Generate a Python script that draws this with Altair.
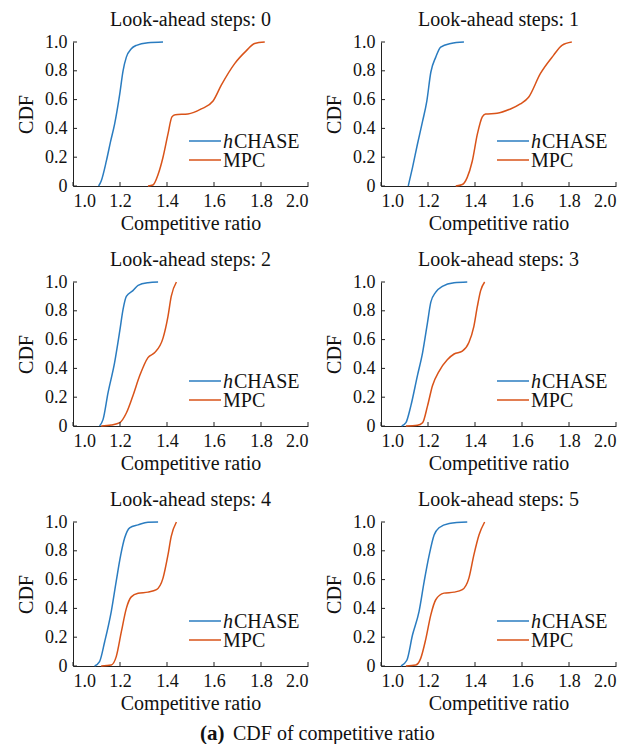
import altair as alt
import pandas as pd

FONT = "Liberation Serif"
BLUE = "#2a7cc0"
ORANGE = "#d95319"

SERIES = ["hCHASE", "MPC"]
X_TICKS = [1.0, 1.2, 1.4, 1.6, 1.8, 2.0]
Y_TICKS = [0.0, 0.2, 0.4, 0.6, 0.8, 1.0]
TITLES = ["Look-ahead steps: 0", "Look-ahead steps: 1", "Look-ahead steps: 2",
          "Look-ahead steps: 3", "Look-ahead steps: 4", "Look-ahead steps: 5"]

# Panel 0
H0x = [1.109, 1.12, 1.142, 1.16, 1.177, 1.199, 1.213, 1.227, 1.248, 1.27, 1.319, 1.383]
H0y = [0, 0.035, 0.174, 0.31, 0.43, 0.64, 0.80, 0.895, 0.953, 0.977, 0.995, 1.0]
M0x = [1.319, 1.34, 1.362, 1.383, 1.404, 1.421, 1.435, 1.489, 1.546, 1.596, 1.631, 1.688, 1.738, 1.773, 1.816]
M0y = [0, 0.007, 0.08, 0.2, 0.36, 0.48, 0.495, 0.5, 0.535, 0.59, 0.70, 0.85, 0.94, 0.99, 1.0]
# Panel 1
H1x = [1.116, 1.134, 1.155, 1.177, 1.195, 1.212, 1.233, 1.254, 1.297, 1.353]
H1y = [0, 0.128, 0.29, 0.45, 0.59, 0.79, 0.895, 0.965, 0.99, 1.0]
M1x = [1.318, 1.346, 1.367, 1.388, 1.41, 1.431, 1.445, 1.494, 1.551, 1.593, 1.628, 1.678, 1.734, 1.77, 1.812]
M1y = [0, 0.01, 0.06, 0.17, 0.36, 0.48, 0.5, 0.505, 0.535, 0.57, 0.616, 0.78, 0.907, 0.977, 1.0]
# Panel 2
H2x = [1.113, 1.128, 1.149, 1.177, 1.199, 1.213, 1.227, 1.255, 1.277, 1.319, 1.362]
H2y = [0, 0.046, 0.23, 0.44, 0.66, 0.81, 0.90, 0.94, 0.977, 0.995, 1.0]
M2x = [1.12, 1.163, 1.199, 1.227, 1.255, 1.284, 1.319, 1.348, 1.383, 1.404, 1.418, 1.44]
M2y = [0, 0.007, 0.023, 0.09, 0.21, 0.35, 0.475, 0.51, 0.61, 0.76, 0.9, 1.0]
# Panel 3
H3x = [1.088, 1.106, 1.127, 1.155, 1.177, 1.198, 1.212, 1.233, 1.261, 1.311, 1.367]
H3y = [0, 0.023, 0.14, 0.35, 0.51, 0.72, 0.86, 0.93, 0.97, 0.995, 1.0]
M3x = [1.106, 1.155, 1.177, 1.198, 1.219, 1.247, 1.282, 1.311, 1.346, 1.374, 1.395, 1.41, 1.424, 1.441]
M3y = [0, 0.005, 0.023, 0.14, 0.28, 0.38, 0.46, 0.5, 0.52, 0.58, 0.69, 0.83, 0.94, 1.0]
# Panel 4
H4x = [1.092, 1.113, 1.135, 1.163, 1.184, 1.203, 1.22, 1.241, 1.277, 1.319, 1.362]
H4y = [0, 0.03, 0.17, 0.38, 0.59, 0.77, 0.89, 0.96, 0.98, 0.998, 1.0]
M4x = [1.12, 1.163, 1.184, 1.206, 1.227, 1.248, 1.277, 1.319, 1.355, 1.383, 1.404, 1.418, 1.44]
M4y = [0, 0.007, 0.065, 0.24, 0.4, 0.48, 0.505, 0.513, 0.53, 0.61, 0.77, 0.9, 1.0]
# Panel 5
H5x = [1.085, 1.11, 1.134, 1.162, 1.184, 1.205, 1.226, 1.247, 1.29, 1.367]
H5y = [0, 0.04, 0.215, 0.38, 0.59, 0.77, 0.91, 0.96, 0.99, 1.0]
M5x = [1.106, 1.148, 1.169, 1.191, 1.212, 1.233, 1.268, 1.311, 1.346, 1.374, 1.395, 1.417, 1.441]
M5y = [0, 0.007, 0.053, 0.19, 0.355, 0.46, 0.506, 0.513, 0.53, 0.61, 0.77, 0.91, 1.0]

PANELS = [(H0x, H0y, M0x, M0y), (H1x, H1y, M1x, M1y), (H2x, H2y, M2x, M2y),
          (H3x, H3y, M3x, M3y), (H4x, H4y, M4x, M4y), (H5x, H5y, M5x, M5y)]

W, H = 235, 144
one = pd.DataFrame({"k": [0]})

XAXIS = alt.Axis(values=X_TICKS, format=".1f", ticks=False, grid=False,
                 labelOverlap=False, labelPadding=6, titlePadding=3)
YAXIS = alt.Axis(values=Y_TICKS, ticks=False, grid=False, labelOverlap=False,
                 labelExpr="datum.value == 0 ? '0' : format(datum.value, '.1f')",
                 labelPadding=6, titlePadding=8)


def panel(i, caption=False):
    hx, hy, mx, my = PANELS[i]
    df = pd.concat([
        pd.DataFrame({"x": hx, "y": hy, "series": SERIES[0], "order": range(len(hx))}),
        pd.DataFrame({"x": mx, "y": my, "series": SERIES[1], "order": range(len(mx))}),
    ])
    xs = alt.Scale(domain=[1.0, 2.0], nice=False)
    ys = alt.Scale(domain=[0.0, 1.0], nice=False)
    lines = alt.Chart(df).mark_line(strokeWidth=1.5, interpolate="monotone").encode(
        x=alt.X("x:Q", scale=xs, title="Competitive ratio", axis=XAXIS),
        y=alt.Y("y:Q", scale=ys, title="CDF", axis=YAXIS),
        color=alt.Color("series:N", scale=alt.Scale(domain=SERIES, range=[BLUE, ORANGE]), legend=None),
        order="order:Q",
    )
    xt = alt.Chart(pd.DataFrame({"t": X_TICKS})).mark_rule(color="#222", strokeWidth=1).encode(
        x=alt.X("t:Q", scale=xs, title="Competitive ratio", axis=XAXIS),
        y=alt.value(H), y2=alt.value(H - 4))
    yt = alt.Chart(pd.DataFrame({"t": Y_TICKS})).mark_rule(color="#222", strokeWidth=1).encode(
        y=alt.Y("t:Q", scale=ys, title="CDF", axis=YAXIS),
        x=alt.value(0), x2=alt.value(4))
    base = alt.Chart(one)
    l1 = base.mark_rule(color=BLUE, strokeWidth=1.5).encode(
        x=alt.value(116), x2=alt.value(148), y=alt.value(99))
    l2 = base.mark_rule(color=ORANGE, strokeWidth=1.5).encode(
        x=alt.value(116), x2=alt.value(148), y=alt.value(118))
    t1a = base.mark_text(text="h", font=FONT, fontSize=20, fontStyle="italic", align="left",
                         baseline="middle", color="#111").encode(x=alt.value(150), y=alt.value(100))
    t1b = base.mark_text(text="CHASE", font=FONT, fontSize=20, align="left",
                         baseline="middle", color="#111").encode(x=alt.value(161), y=alt.value(100))
    t2 = base.mark_text(text="MPC", font=FONT, fontSize=20, align="left",
                        baseline="middle", color="#111").encode(x=alt.value(150), y=alt.value(119))
    layers = [lines, xt, yt, l1, l2, t1a, t1b, t2]
    if caption:
        c1 = base.mark_text(text="(a)", font=FONT, fontSize=21, fontWeight="bold", align="left",
                            baseline="middle", color="#111").encode(x=alt.value(127), y=alt.value(212))
        c2 = base.mark_text(text="CDF of competitive ratio", font=FONT, fontSize=20, align="left",
                            baseline="middle", color="#111").encode(x=alt.value(160), y=alt.value(212))
        layers += [c1, c2]
    return alt.layer(*layers).properties(
        width=W, height=H,
        title=alt.TitleParams(TITLES[i], font=FONT, fontSize=20, fontWeight="normal",
                              color="#111", offset=3))


panels = [panel(0), panel(1), panel(2), panel(3), panel(4, caption=True), panel(5)]
chart = alt.concat(*panels, columns=2, spacing={"row": 96, "column": 73}, bounds="flush").properties(
    padding={"left": 8, "top": 2, "right": 0, "bottom": 0}
).configure_view(stroke=None).configure_axis(
    labelFont=FONT, titleFont=FONT, labelFontSize=18, titleFontSize=20,
    titleFontWeight="normal", labelColor="#111", titleColor="#111",
    domainColor="#222", domainWidth=1,
)

chart.save("out.html", embed_options={"renderer": "svg", "actions": False})
